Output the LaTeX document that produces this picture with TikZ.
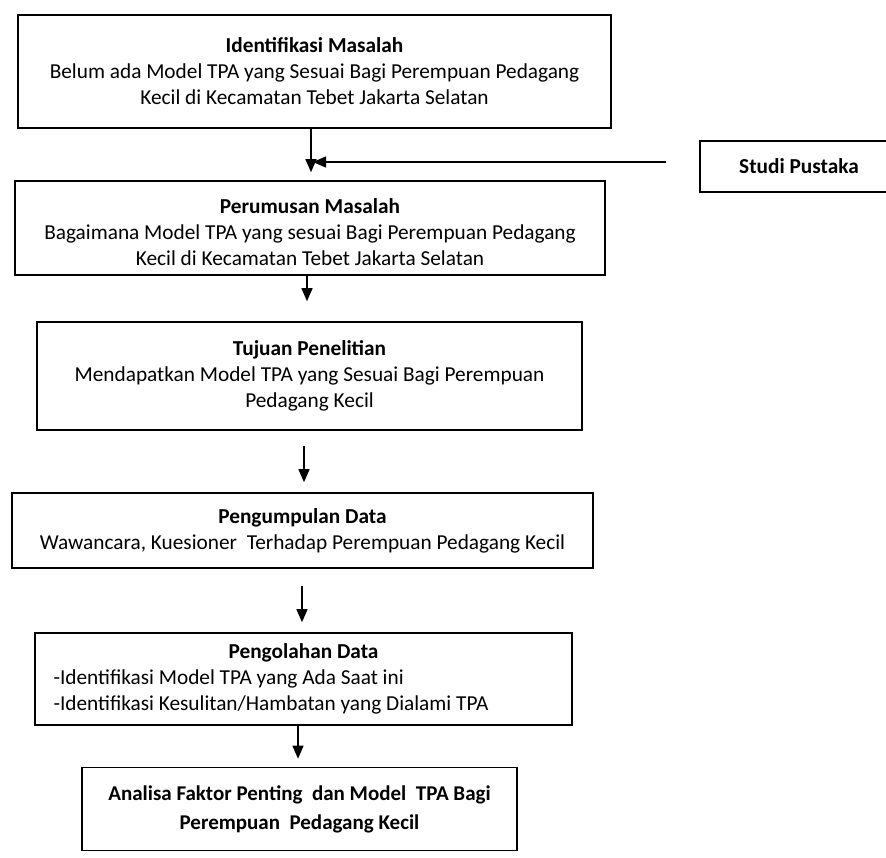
\documentclass[tikz,border=0pt]{standalone}
\usepackage{fontspec}
\setmainfont{Carlito}
\usetikzlibrary{arrows.meta}
\begin{document}
\begin{tikzpicture}[x=1pt,y=-1pt,
  box/.style={draw, line width=1.6pt, rectangle, inner sep=0pt, align=center,
    font=\fontsize{21.3}{26}\selectfont},
  arr/.style={line width=1.4pt, -{Triangle[length=13pt,width=11pt]}}]
\path[use as bounding box, fill=white] (0,0) rectangle (886,857);

% research flow boxes
\node[box, minimum width=593pt, minimum height=113pt] (b1) at (314.5,71.5)
  {\textbf{Identifikasi Masalah}\\Belum ada Model TPA yang Sesuai Bagi Perempuan Pedagang\\Kecil di Kecamatan Tebet Jakarta Selatan};
\node[box, minimum width=590pt, minimum height=94pt] (b2) at (310,228)
  {\raisebox{-6pt}[\height][\depth]{\begin{tabular}{@{}c@{}}\textbf{Perumusan Masalah}\\Bagaimana Model TPA yang sesuai Bagi Perempuan Pedagang\\Kecil di Kecamatan Tebet Jakarta Selatan\end{tabular}}};
\node[box, minimum width=545pt, minimum height=108pt] (b3) at (309.5,376)
  {\textbf{Tujuan Penelitian}\\Mendapatkan Model TPA yang Sesuai Bagi Perempuan\\Pedagang Kecil};
\node[box, minimum width=581pt, minimum height=75pt] (b4) at (302.5,530.5)
  {\textbf{Pengumpulan Data}\\Wawancara, Kuesioner\ \ Terhadap Perempuan Pedagang Kecil};
\node[box, minimum width=537pt, minimum height=92pt] (b5) at (303.5,679)
  {\makebox[500pt]{\bfseries Pengolahan Data}\\
   \makebox[500pt][l]{-Identifikasi Model TPA yang Ada Saat ini}\\
   \makebox[500pt][l]{-Identifikasi Kesulitan/Hambatan yang Dialami TPA}};
\node[box, minimum width=435pt, minimum height=83pt, font=\fontsize{21}{29}\selectfont\bfseries] (b6) at (299.5,809)
  {Analisa Faktor Penting\ \ dan Model\ \ TPA Bagi\\Perempuan\ \ Pedagang Kecil};

% literature box running off the right edge
\begin{scope}
  \clip (0,0) rectangle (886,857);
  \node[box, minimum width=198pt, minimum height=51pt] (sp) at (799,166.5) {\textbf{Studi Pustaka}};
\end{scope}

% connectors
\coordinate (j) at (313,162);
\draw[arr, shorten >=8pt] (b1.south -| 311,0) -- (b2.north -| 311,0);
\draw[arr] ([xshift=-33pt]sp.west |- j) -- (j);
\draw[arr, shorten >=20pt] (b2.south -| 307,0) -- (b3.north -| 307,0);
\draw[arr, shorten <=15pt, shorten >=10pt] (b3.south -| 304,0) -- (b4.north -| 304,0);
\draw[arr, shorten <=17pt, shorten >=10pt] (b4.south -| 302,0) -- (b5.north -| 302,0);
\draw[arr, shorten >=8pt] (b5.south -| 298,0) -- (b6.north -| 298,0);
\end{tikzpicture}
\end{document}
